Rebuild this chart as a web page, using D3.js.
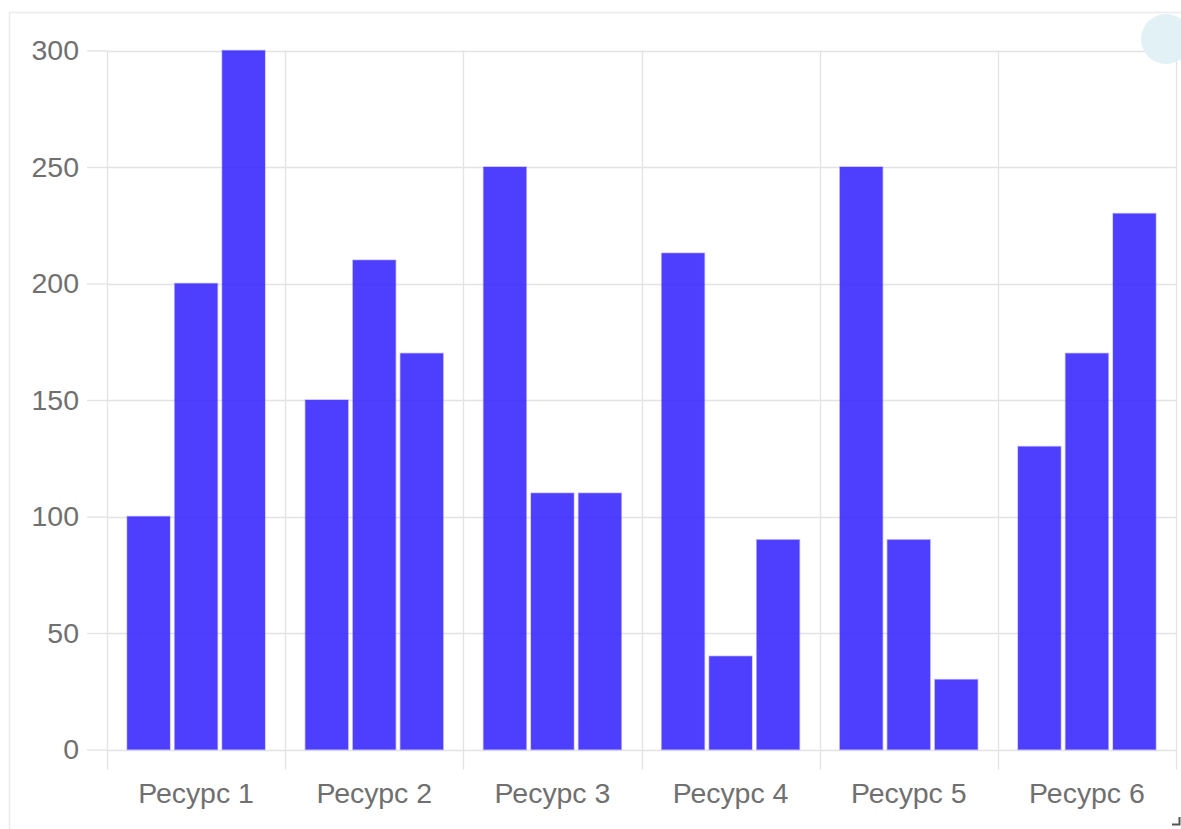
<!DOCTYPE html>
<html>
<head>
<meta charset="utf-8">
<script src="https://cdn.jsdelivr.net/npm/d3@7"></script>
<style>
  html, body { margin: 0; padding: 0; background: #ffffff; }
  svg { display: block; }
  text { font-family: "Liberation Sans", Arial, Helvetica, sans-serif; }
</style>
</head>
<body>
<svg id="chart" width="1181" height="829"></svg>
<script>
const categories = ["Ресурс 1", "Ресурс 2", "Ресурс 3", "Ресурс 4", "Ресурс 5", "Ресурс 6"];
const seriesA = [100, 150, 250, 213, 250, 130];
const seriesB = [200, 210, 110, 40, 90, 170];
const seriesC = [300, 170, 110, 90, 30, 230];
const yTicks = [0, 50, 100, 150, 200, 250, 300];

const seriesNames = ["A", "B", "C"];
const seriesData = [seriesA, seriesB, seriesC];

const svg = d3.select("#chart");
const plotLeft = 107, plotRight = 1176, plotTop = 50.5, plotBottom = 749.5;

// outer frame
svg.append("rect").attr("x", 9.5).attr("y", 12.5).attr("width", 1200).attr("height", 900)
  .attr("fill", "none").attr("stroke", "#ececec").attr("stroke-width", 1.5);

const x0 = d3.scaleBand().domain(categories).range([plotLeft, plotRight]).padding(0);
const bw = x0.bandwidth();
const x1 = d3.scaleBand().domain(seriesNames).range([bw * 0.1, bw * 0.9]).paddingInner(0.1).paddingOuter(0.05);
const y = d3.scaleLinear().domain([0, 300]).range([plotBottom, plotTop]);

const grid = "#e3e3e3";
const labelFont = "28.5px";

// horizontal gridlines
svg.append("g").selectAll("line").data(yTicks).join("line")
  .attr("x1", plotLeft).attr("x2", plotRight)
  .attr("y1", d => Math.round(y(d)) + 0.5).attr("y2", d => Math.round(y(d)) + 0.5)
  .attr("stroke", grid).attr("stroke-width", 1.3);

// vertical gridlines at category boundaries
const bounds = categories.map(c => x0(c)).concat([plotRight]);
svg.append("g").selectAll("line").data(bounds).join("line")
  .attr("x1", d => Math.round(d) + 0.5).attr("x2", d => Math.round(d) + 0.5)
  .attr("y1", plotTop).attr("y2", plotBottom + 20)
  .attr("stroke", grid).attr("stroke-width", 1.3);

// y axis
const yAxis = svg.append("g").attr("transform", `translate(${plotLeft},0)`)
  .call(d3.axisLeft(y).tickValues(yTicks).tickSize(20).tickPadding(8));
yAxis.select(".domain").remove();
yAxis.selectAll(".tick line").attr("stroke", grid).attr("stroke-width", 1.3);
yAxis.selectAll(".tick text").attr("fill", "#707070").style("font-size", labelFont)
  .style("font-family", '"Liberation Sans", Arial, sans-serif');

// x axis labels
const xAxis = svg.append("g").attr("transform", `translate(0,${plotBottom})`)
  .call(d3.axisBottom(x0).tickSize(0).tickPadding(0));
xAxis.select(".domain").remove();
xAxis.selectAll(".tick text").attr("fill", "#707070").style("font-size", labelFont)
  .style("font-family", '"Liberation Sans", Arial, sans-serif')
  .attr("y", 33).attr("dy", "0.71em");

// bars
const groups = svg.append("g").selectAll("g").data(categories).join("g")
  .attr("transform", d => `translate(${x0(d)},0)`);
groups.selectAll("rect")
  .data((c, i) => seriesNames.map((s, j) => ({ s, v: seriesData[j][i] })))
  .join("rect")
  .attr("x", d => x1(d.s))
  .attr("width", x1.bandwidth())
  .attr("y", d => y(d.v))
  .attr("height", d => plotBottom - y(d.v))
  .attr("fill", "rgb(52,34,255)")
  .attr("fill-opacity", 0.87)
  .attr("stroke", "rgba(90,70,255,0.35)")
  .attr("stroke-width", 1.5);

// decorative circle top-right
svg.append("circle").attr("cx", 1166).attr("cy", 39).attr("r", 25)
  .attr("fill", "#dff0f5").attr("fill-opacity", 0.9);

// resize handle
svg.append("path").attr("d", "M1172,824.5 H1179.5 V817")
  .attr("fill", "none").attr("stroke", "#555").attr("stroke-width", 2);
</script>
</body>
</html>
